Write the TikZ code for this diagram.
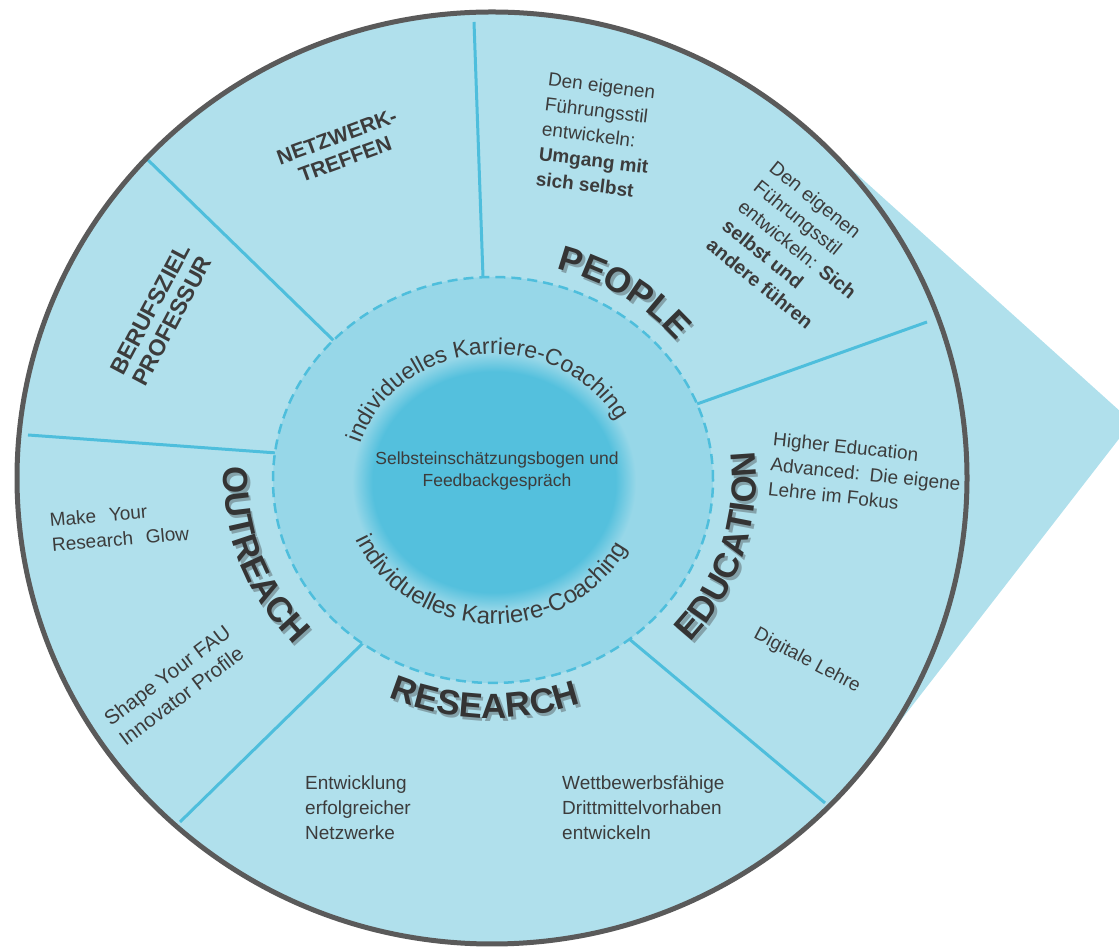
\documentclass[tikz,border=0pt]{standalone}
\usepackage{fontspec}
\setmainfont{Liberation Sans}
\usetikzlibrary{decorations.text,calc}
\definecolor{ringfill}{RGB}{176,224,236}
\definecolor{midfill}{RGB}{151,215,232}
\definecolor{diskc}{RGB}{84,192,221}
\definecolor{divline}{RGB}{78,190,220}
\definecolor{rimline}{RGB}{90,90,90}
\definecolor{txt}{RGB}{60,60,60}
\definecolor{bigtxt}{RGB}{52,52,52}
\definecolor{shadowc}{RGB}{132,162,170}
\pgfdeclareradialshading{blurdisk}{\pgfpointorigin}{color(0bp)=(diskc); color(21.4bp)=(diskc); color(25bp)=(midfill); color(50bp)=(midfill)}
\newcommand\ringword[7]{%
  \path[decorate,decoration={text along path,text align=center,text={|\fontsize{35}{35}\selectfont\bfseries\color{shadowc}|#7}}] (#1+2.5,#2-3) ++(#5:#3 and #4) arc[start angle=#5,end angle=#6,x radius=#3,y radius=#4];
  \path[decorate,decoration={text along path,text align=center,text={|\fontsize{35}{35}\selectfont\bfseries\color{bigtxt}|#7}}] (#1,#2) ++(#5:#3 and #4) arc[start angle=#5,end angle=#6,x radius=#3,y radius=#4];
}
\begin{document}
\begin{tikzpicture}[x=1pt,y=1pt,
  divider/.style={draw=divline,line width=3,shorten <=-6pt},
  smalltext/.style={font=\fontsize{19}{25}\selectfont,text=txt,inner sep=0pt},
  boldlabel/.style={font=\fontsize{21}{24}\selectfont\bfseries,text=txt,align=center,inner sep=0pt}]
\useasboundingbox (0,0) rectangle (1119,947);
\clip (0,0) rectangle (1119,947);
\coordinate (O) at (492,469);
\coordinate (D) at (493,467);
\coordinate (tip) at (1132,525);
% pointer
\fill[ringfill] (tip) -- ([shift={(47.5:475 and 466)}]O) -- (O) -- ([shift={(-37.3:475 and 466)}]O) -- cycle;
% outer ring
\fill[ringfill] (O) ellipse [x radius=475, y radius=466];
% dividers
\coordinate (d1a) at (483,670); \coordinate (d1b) at (474,925);
\coordinate (d2a) at (331,609); \coordinate (d2b) at (148,787);
\coordinate (d3a) at (277,494); \coordinate (d3b) at (28,512);
\coordinate (d4a) at (361,302); \coordinate (d4b) at (180,125);
\coordinate (d5a) at (628,309); \coordinate (d5b) at (825,144);
\coordinate (d6a) at (697,543); \coordinate (d6b) at (927,625);
\draw[divider] (d1a) -- (d1b);
\draw[divider] (d2a) -- (d2b);
\draw[divider] (d3a) -- (d3b);
\draw[divider] (d4a) -- (d4b);
\draw[divider] (d5a) -- (d5b);
\draw[divider] (d6a) -- (d6b);
% middle ring
\fill[midfill] (D) ellipse [x radius=220, y radius=203];
\draw[divline,line width=2.5,dash pattern=on 10pt off 6pt] (D) ellipse [x radius=220, y radius=203];
% inner disk
\shade[shading=blurdisk] (494,465) ellipse [x radius=142, y radius=129];
% rim
\draw[rimline,line width=5] (O) ellipse [x radius=475, y radius=466];
% center text
\node[font=\fontsize{17.5}{22}\selectfont,text=txt,align=center,inner sep=0pt] (selbst) at (497,476) {Selbsteinschätzungsbogen und\\Feedbackgespräch};
% curved coaching texts
\path[decorate,decoration={text along path,text align=center,text={|\fontsize{23}{23}\selectfont\color{txt}|individuelles Karriere-Coaching}}] (494,465) ++(185:140 and 128) arc[start angle=185,end angle=6,x radius=140,y radius=128];
\path[decorate,decoration={text along path,text align=center,text={|\fontsize{24}{24}\selectfont\color{txt}|individuelles Karriere-Coaching}}] (494,465) ++(178:151 and 142) arc[start angle=178,end angle=358,x radius=151,y radius=142];
% big labels
\ringword{493}{467}{237}{219}{100}{12}{PEOPLE}
\ringword{493}{467}{263}{246}{-62}{28}{EDUCATION}
\ringword{493}{467}{269}{245}{154}{244}{OUTREACH}
\ringword{493}{467}{255}{238}{223}{313}{RESEARCH}
% outer ring texts
\node[boldlabel,rotate=20] (netz) at (341,799) {NETZWERK-\\TREFFEN};
\node[boldlabel,rotate=62,font=\fontsize{23}{25}\selectfont\bfseries] (beruf) at (161,632) {BERUFSZIEL\\PROFESSUR};
\node[smalltext,align=left,anchor=north west,rotate=-7] (peopleA) at (549,875) {Den eigenen\\Führungsstil\\entwickeln:\\\textbf{Umgang mit}\\\textbf{sich selbst}};
\node[smalltext,align=left,anchor=north west,rotate=-39,font=\fontsize{19.5}{25}\selectfont] (peopleB) at (777,788) {Den eigenen\\Führungsstil\\entwickeln: \textbf{Sich}\\\textbf{selbst und}\\\textbf{andere führen}};
\node[smalltext,align=left,anchor=north west,rotate=-6] (eduA) at (774,515) {Higher Education\\Advanced:\hspace{0.15em} Die eigene\\Lehre im Fokus};
\node[smalltext,rotate=-28] (eduB) at (807,286) {Digitale Lehre};
\node[smalltext,align=left,anchor=north west,rotate=5] (outA) at (49,434) {Make\hspace{0.4em} Your\\Research\hspace{0.4em} Glow};
\node[smalltext,align=left,anchor=south west,rotate=37,font=\fontsize{20.5}{25}\selectfont] (outB) at (126,200) {Shape Your FAU\\Innovator Profile};
\node[smalltext,align=left,anchor=north west] (resA) at (305,171) {Entwicklung\\erfolgreicher\\Netzwerke};
\node[smalltext,align=left,anchor=north west] (resB) at (562,171) {Wettbewerbsfähige\\Drittmittelvorhaben\\entwickeln};
\end{tikzpicture}
\end{document}
